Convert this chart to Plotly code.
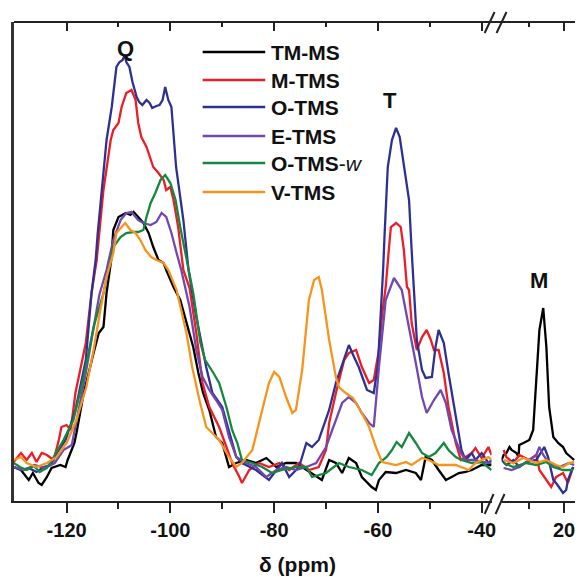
import plotly.graph_objects as go

# ---------------- data: (chemical shift ppm, intensity a.u.) ----------------
TMMS_LEFT = [(-130.2,-2),(-128.8,-5),(-127.3,-15),(-126.5,-8),(-125.4,-18),(-124.8,-20),(-123.8,-12),(-122.9,-3),
             (-121.2,0),(-120.2,-2),(-119.8,5),(-119.2,12),(-118.5,22),(-118.1,32),(-116.7,72),(-114.8,112),
             (-113.8,132),(-112.9,138),(-112.3,172),(-111.4,205),(-111.0,235),(-110.0,248),(-108.6,252),(-107.7,250),
             (-107.1,253),(-106.2,248),(-105.2,242),(-104.2,232),(-103.3,218),(-102.3,205),(-101.3,202),(-100.8,195),
             (-99.4,178),(-98.1,165),(-96.9,142),(-95.6,118),(-94.6,92),(-93.7,72),(-92.5,55),(-91.2,28),(-90.0,22),
             (-88.7,-2),(-87.3,2),(-85.4,5),(-83.5,2),(-81.5,7),(-79.6,-2),(-77.7,2),(-75.8,2),(-73.8,-5),(-71.9,-12),
             (-70.8,-15),(-69.4,5),(-68.1,2),(-66.9,-8),(-65.6,7),(-64.2,2),(-63.1,-12),(-61.2,-22),(-60.4,-25),
             (-59.8,-15),(-58.5,-7),(-56.5,-8),(-54.6,-5),(-52.7,-8),(-51.7,-15),(-50.8,8),(-49.6,5),(-48.3,-5),
             (-46.9,-15),(-45.8,-12),(-44.4,-8),(-43.1,-7),(-41.9,-5),(-40.0,0),(-38.1,0)]
TMMS_RIGHT = [(2.0,5),(2.6,10),(3.4,12),(4.3,18),(4.9,15),(6.3,12),(6.9,8),(7.1,20),(8.3,22),(10.0,25),(11.1,35),
              (12.0,85),(12.9,135),(14.0,157),(14.9,118),(15.7,58),(16.9,28),(18.3,22),(19.7,18),(20.6,12),(22.0,8),(22.9,5)]

MTMS_LEFT = [(-130.2,3),(-128.8,12),(-127.7,5),(-126.7,12),(-125.8,3),(-124.8,12),(-123.8,10),(-122.5,5),(-121.5,25),
             (-121.0,38),(-120.0,40),(-119.2,35),(-118.3,72),(-116.3,122),(-115.2,172),(-114.2,205),(-112.9,275),
             (-111.5,325),(-111.0,335),(-110.0,342),(-109.4,358),(-108.5,372),(-107.5,375),(-106.7,365),(-106.2,342),
             (-105.6,328),(-104.6,318),(-103.3,298),(-102.3,292),(-101.3,285),(-100.8,275),(-100.0,278),(-99.4,265),
             (-98.5,238),(-97.5,195),(-96.3,177),(-95.0,132),(-93.8,82),(-92.5,58),(-90.6,38),(-89.2,18),(-88.1,2),
             (-86.7,-12),(-86.2,-18),(-84.8,-5),(-82.9,2),(-81.0,-2),(-79.0,2),(-77.1,-5),(-75.2,2),(-73.3,-5),
             (-71.4,-2),(-70.0,15),(-69.4,42),(-68.1,72),(-66.5,105),(-65.6,112),(-64.2,115),(-63.1,98),(-61.7,82),
             (-60.8,85),(-59.8,115),(-59.2,150),(-58.5,178),(-57.9,215),(-57.5,238),(-56.5,242),(-55.6,238),(-55.0,215),
             (-54.4,178),(-54.0,175),(-53.5,142),(-52.5,115),(-51.5,128),(-50.6,135),(-49.8,125),(-49.2,115),(-48.3,115),
             (-47.3,92),(-46.4,58),(-45.0,22),(-44.0,5),(-43.1,8),(-41.9,12),(-41.2,17),(-40.0,7),(-38.7,18),(-38.1,10)]
MTMS_RIGHT = [(2.6,15),(3.4,8),(5.4,2),(7.1,10),(10.0,5),(12.0,10),(12.9,-5),(14.9,-15),(16.3,-22),(17.7,-12),
              (19.7,-8),(21.1,-18),(22.6,-2)]

OTMS_LEFT = [(-130.2,-2),(-128.8,-5),(-127.3,-3),(-125.8,-7),(-124.4,-2),(-123.1,0),(-121.9,12),(-120.2,25),(-118.3,55),
             (-116.3,105),(-115.2,172),(-114.4,205),(-114.0,232),(-113.1,282),(-112.3,325),(-111.3,358),(-110.4,398),
             (-109.8,403),(-109.2,405),(-108.8,410),(-108.5,403),(-107.9,398),(-107.3,383),(-106.5,368),(-106.0,363),
             (-105.4,360),(-104.6,365),(-104.0,362),(-103.5,357),(-102.7,359),(-102.1,360),(-101.5,365),(-101.0,378),
             (-100.4,365),(-99.8,358),(-98.9,298),(-97.5,245),(-96.5,195),(-95.0,148),(-93.1,98),(-91.9,72),(-90.0,58),
             (-88.7,35),(-87.3,8),(-86.2,2),(-83.5,-5),(-81.0,-15),(-78.5,2),(-77.1,-12),(-75.2,-2),(-73.8,22),
             (-72.7,18),(-71.4,25),(-69.4,55),(-68.1,82),(-67.1,98),(-65.6,120),(-64.6,108),(-63.7,98),(-62.1,75),
             (-60.8,72),(-60.0,100),(-59.4,150),(-59.0,195),(-58.7,232),(-58.1,298),(-57.3,325),(-56.5,337),(-55.8,328),
             (-55.0,298),(-54.0,265),(-53.5,215),(-53.1,175),(-52.5,125),(-51.5,95),(-50.8,87),(-49.6,88),(-48.9,118),
             (-48.3,135),(-47.3,122),(-46.4,92),(-45.0,48),(-43.9,15),(-43.1,5),(-41.9,12),(-41.2,5),(-40.0,12),
             (-38.7,2),(-38.1,5)]
OTMS_RIGHT = [(2.0,5),(3.4,0),(5.4,5),(7.1,-2),(9.1,3),(12.0,5),(14.3,18),(15.4,8),(16.9,-15),(17.7,-18),
              (19.7,-28),(20.6,-25),(21.1,-15),(22.6,-2)]

ETMS_LEFT = [(-130.2,-2),(-128.1,-5),(-126.2,0),(-124.2,-3),(-122.3,2),(-120.6,15),(-119.0,20),(-118.3,40),(-117.3,65),
             (-116.2,95),(-114.8,135),(-113.7,170),(-112.3,195),(-111.0,225),(-109.6,245),(-108.5,252),(-107.5,253),
             (-106.2,245),(-105.2,242),(-103.8,240),(-102.7,243),(-101.7,252),(-100.8,248),(-99.8,232),(-98.8,212),
             (-97.9,195),(-96.3,158),(-95.0,115),(-93.8,88),(-92.5,75),(-91.2,65),(-90.0,55),(-88.7,28),(-87.3,8),
             (-85.4,2),(-83.5,-2),(-81.5,-12),(-79.6,-5),(-77.7,-2),(-75.8,-5),(-73.8,-2),(-71.9,2),(-70.0,18),
             (-68.8,35),(-67.5,55),(-66.9,62),(-65.6,68),(-64.2,62),(-63.1,52),(-61.7,42),(-60.8,38),(-59.8,98),
             (-58.5,165),(-56.9,187),(-55.4,175),(-54.0,138),(-52.7,102),(-51.5,68),(-50.6,52),(-49.2,65),(-47.9,75),
             (-46.9,62),(-45.8,35),(-44.0,12),(-43.1,5),(-41.2,5),(-40.0,3),(-38.1,2)]
ETMS_RIGHT = [(2.6,-3),(4.9,-5),(7.1,-2),(9.1,3),(12.0,10),(12.9,18),(14.0,10),(15.7,2),(18.6,-2),(21.4,2),(22.9,0)]

OTMSW_LEFT = [(-130.2,2),(-129.0,-2),(-127.7,-5),(-126.3,-1),(-125.2,-7),(-123.8,-3),(-122.5,8),(-120.6,25),(-118.7,45),
              (-116.7,88),(-114.8,138),(-112.9,172),(-111.5,205),(-111.0,218),(-109.6,228),(-108.5,232),(-107.1,233),
              (-106.2,233),(-105.2,235),(-104.6,248),(-103.8,262),(-102.9,272),(-101.9,285),(-101.0,290),(-100.0,282),
              (-99.0,265),(-98.1,238),(-97.1,212),(-96.5,195),(-95.6,172),(-94.2,122),(-93.3,105),(-91.7,92),(-90.6,82),
              (-89.2,58),(-88.1,35),(-87.1,22),(-86.2,5),(-84.2,2),(-82.3,-2),(-80.4,-8),(-78.5,-5),(-75.8,-2),
              (-73.8,-2),(-72.7,-12),(-70.0,-8),(-67.5,2),(-65.6,-2),(-63.1,-5),(-61.2,-10),(-59.8,2),(-58.3,8),
              (-57.3,15),(-56.4,23),(-55.4,18),(-54.0,32),(-52.7,22),(-51.5,12),(-50.2,8),(-48.9,12),(-47.3,22),
              (-46.4,15),(-45.0,8),(-43.9,5),(-41.9,2),(-40.0,3),(-38.1,-5)]
OTMSW_RIGHT = [(2.6,2),(5.4,-2),(9.1,2),(12.0,0),(14.9,3),(16.9,-2),(19.7,-5),(22.6,-5)]

VTMS_LEFT = [(-130.2,5),(-128.8,8),(-127.7,2),(-125.8,-2),(-123.8,2),(-121.9,8),(-120.0,22),(-118.1,45),(-116.2,78),
             (-114.8,115),(-113.5,155),(-112.3,188),(-111.0,212),(-110.4,232),(-109.4,238),(-108.7,242),(-107.7,235),
             (-106.7,232),(-105.8,225),(-104.8,215),(-103.7,208),(-102.7,205),(-101.3,202),(-100.4,195),(-98.8,175),
             (-96.9,132),(-95.8,98),(-94.4,65),(-93.1,38),(-91.9,32),(-90.6,25),(-88.7,8),(-87.3,-2),(-86.2,2),
             (-84.2,15),(-82.3,55),(-81.0,82),(-80.0,93),(-79.0,88),(-77.7,68),(-76.5,52),(-75.8,55),(-74.6,95),
             (-73.3,165),(-72.3,185),(-71.4,188),(-70.8,175),(-69.4,125),(-68.1,88),(-67.5,78),(-66.2,72),(-64.8,67),
             (-63.1,52),(-61.7,38),(-60.4,18),(-59.2,3),(-56.5,0),(-54.6,3),(-53.5,0),(-51.5,7),(-50.2,5),(-48.3,0),
             (-45.0,0),(-42.5,-5),(-41.2,2),(-38.7,8),(-38.1,5)]
VTMS_RIGHT = [(2.6,5),(5.4,2),(8.3,7),(12.0,2),(14.9,5),(17.7,0),(19.7,-2),(21.4,2),(22.9,3)]

SERIES_NAMES = ["TM-MS", "M-TMS", "O-TMS", "E-TMS", "O-TMS-w", "V-TMS"]
LEGEND_LABELS = ["<b>TM-MS</b>", "<b>M-TMS</b>", "<b>O-TMS</b>", "<b>E-TMS</b>", "<b>O-TMS</b>-<i>w</i>", "<b>V-TMS</b>"]
SERIES_COLORS = ["#000000", "#ee1c25", "#2e3192", "#7048ae", "#16873f", "#f7941d"]
LEFT_DATA = [TMMS_LEFT, MTMS_LEFT, OTMS_LEFT, ETMS_LEFT, OTMSW_LEFT, VTMS_LEFT]
RIGHT_DATA = [TMMS_RIGHT, MTMS_RIGHT, OTMS_RIGHT, ETMS_RIGHT, OTMSW_RIGHT, VTMS_RIGHT]

LEFT_TICKS = [-120, -100, -80, -60, -40]
LEFT_TICK_LABELS = ["-120", "-100", "-80", "-60", "-40"]
LEFT_MINOR = [-110, -90, -70, -50]
RIGHT_TICKS = [20]
RIGHT_TICK_LABELS = ["20"]
RIGHT_MINOR = [10]
LEFT_RANGE = [-130.14, -38.09]
RIGHT_RANGE = [2.0, 23.14]
Y_RANGE = [-36, 443]

PEAK_LABELS = [("Q", "x", -108.7, 417), ("T", "x", -57.6, 365), ("M", "x2", 12.9, 185)]

# ---------------- layout geometry (page pixels) ----------------
W, H = 579, 577
ML, MR, MT, MB = 14, 0, 22, 76
PW = W - ML - MR
PH = H - MT - MB
AX = "#222222"
FONT = "Liberation Sans, Arial, Helvetica, sans-serif"


def px(x):
    return (x - ML) / PW


def py(y):
    return (H - MB - y) / PH


fig = go.Figure()
for name, color, left, right in zip(SERIES_NAMES, SERIES_COLORS, LEFT_DATA, RIGHT_DATA):
    fig.add_trace(go.Scatter(x=[p[0] for p in left], y=[p[1] for p in left], mode="lines", name=name,
                             line=dict(color=color, width=2.3), xaxis="x", yaxis="y", showlegend=False))
    fig.add_trace(go.Scatter(x=[p[0] for p in right], y=[p[1] for p in right], mode="lines", name=name,
                             line=dict(color=color, width=2.3), xaxis="x2", yaxis="y", showlegend=False))

tickfont = dict(family=FONT, size=20, color="#111", weight="bold")
common_bottom = dict(showgrid=False, zeroline=False, showline=True, linecolor=AX, linewidth=2,
                     ticks="outside", ticklen=10, tickwidth=2, tickcolor=AX, tickfont=tickfont,
                     anchor="y", tickmode="array")
common_top = dict(showgrid=False, zeroline=False, showline=False, ticks="inside", ticklen=9, tickwidth=2,
                  tickcolor=AX, showticklabels=False, side="top", anchor="y", tickmode="array")

fig.update_layout(
    width=W, height=H,
    margin=dict(l=ML, r=MR, t=MT, b=MB, pad=0),
    paper_bgcolor="white", plot_bgcolor="white",
    xaxis=dict(domain=[0, px(495)], range=LEFT_RANGE, tickvals=LEFT_TICKS, ticktext=LEFT_TICK_LABELS,
               minor=dict(tickmode="array", tickvals=LEFT_MINOR, ticks="outside", ticklen=6, tickwidth=2,
                          tickcolor=AX), **common_bottom),
    xaxis2=dict(domain=[px(505), 1], range=RIGHT_RANGE, tickvals=RIGHT_TICKS, ticktext=RIGHT_TICK_LABELS,
                minor=dict(tickmode="array", tickvals=RIGHT_MINOR, ticks="outside", ticklen=6, tickwidth=2,
                           tickcolor=AX), **common_bottom),
    xaxis3=dict(overlaying="x", range=LEFT_RANGE, tickvals=LEFT_TICKS,
                minor=dict(tickmode="array", tickvals=LEFT_MINOR, ticks="inside", ticklen=5, tickwidth=2,
                           tickcolor=AX), **common_top),
    xaxis4=dict(overlaying="x2", range=RIGHT_RANGE, tickvals=RIGHT_TICKS,
                minor=dict(tickmode="array", tickvals=RIGHT_MINOR, ticks="inside", ticklen=5, tickwidth=2,
                           tickcolor=AX), **common_top),
    yaxis=dict(range=Y_RANGE, showgrid=False, zeroline=False, showticklabels=False, ticks="",
               showline=True, linecolor="#333333", linewidth=2.5),
)

# keep the overlay axes drawn (they carry no traces)
fig.add_trace(go.Scatter(x=[None], y=[None], xaxis="x3", yaxis="y", showlegend=False, hoverinfo="skip"))
fig.add_trace(go.Scatter(x=[None], y=[None], xaxis="x4", yaxis="y", showlegend=False, hoverinfo="skip"))

shapes = []
# top frame line (continuous across the break)
shapes.append(dict(type="line", xref="paper", yref="paper", x0=0, x1=1, y0=1, y1=1,
                   line=dict(color=AX, width=2)))
# axis-break marks
for (x0, y0, x1, y1) in [(488, 33, 498, 12), (500, 33, 510, 12), (488, 514, 497, 494), (499, 514, 508, 494)]:
    shapes.append(dict(type="line", xref="paper", yref="paper", x0=px(x0), y0=py(y0), x1=px(x1), y1=py(y1),
                       line=dict(color=AX, width=2)))
# legend key lines
LEG_Y = [52, 80, 107, 136, 163, 192]
for yc, color in zip(LEG_Y, SERIES_COLORS):
    shapes.append(dict(type="line", xref="paper", yref="paper", x0=px(204), x1=px(267), y0=py(yc), y1=py(yc),
                       line=dict(color=color, width=2.5)))
fig.update_layout(shapes=shapes)

ann = []
for yc, label in zip(LEG_Y, LEGEND_LABELS):
    ann.append(dict(text=label, xref="paper", yref="paper", x=px(271), y=py(yc), xanchor="left",
                    yanchor="middle", showarrow=False, font=dict(family=FONT, size=21, color="#111")))
for text, xr, xv, yv in PEAK_LABELS:
    ann.append(dict(text="<b>%s</b>" % text, xref=xr, yref="y", x=xv, y=yv, xanchor="center", yanchor="middle",
                    showarrow=False, font=dict(family=FONT, size=22, color="#111")))
ann.append(dict(text="<b>\u03b4 (ppm)</b>", xref="paper", yref="paper", x=px(300), y=py(564), xanchor="center",
                yanchor="middle", showarrow=False, font=dict(family=FONT, size=21, color="#111")))
fig.update_layout(annotations=ann)

# remove the default 8 px page margin so the 579x577 figure fills the window exactly
fig.write_html("out.html", config={"displayModeBar": False},
               post_script="document.body.style.margin='0';document.body.style.overflow='hidden';")
